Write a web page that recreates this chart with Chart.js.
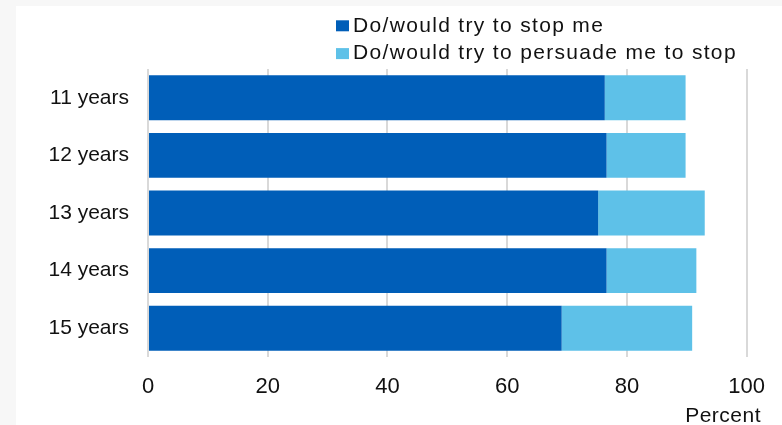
<!DOCTYPE html>
<html>
<head>
<meta charset="utf-8">
<script src="https://cdn.jsdelivr.net/npm/chart.js@4/dist/chart.umd.min.js"></script>
<style>
    html, body { margin: 0; padding: 0; background: #f7f7f7; }
    #wrap { width: 782px; height: 425px; }
</style>
</head>
<body>
<div id="wrap"><canvas id="ageChart" width="782" height="425"></canvas></div>
<script>
const categories = ['11 years', '12 years', '13 years', '14 years', '15 years'];
const stopMe = [76.3, 76.6, 75.2, 76.6, 69.1];
const persuadeMe = [13.5, 13.2, 17.8, 15.0, 21.8];
const seriesNames = ['Do/would try to stop me', 'Do/would try to persuade me to stop'];
const seriesColors = ['#005eb8', '#5ec1e8'];
const axisTitle = 'Percent';

const FONT = '"Liberation Sans", Arial, sans-serif';

// background panel, two-row legend and axis note
const decor = {
    id: 'decor',
    beforeDraw(chart) {
        const ctx = chart.ctx;
        ctx.save();
        ctx.fillStyle = '#f7f7f7';
        ctx.fillRect(0, 0, chart.width, chart.height);
        ctx.fillStyle = '#ffffff';
        ctx.fillRect(16, 6, chart.width - 16, chart.height - 6);
        ctx.restore();
    },
    afterDraw(chart) {
        const ctx = chart.ctx;
        const rows = [25.8, 53.6];
        ctx.save();
        ctx.font = '21px ' + FONT;
        ctx.textBaseline = 'middle';
        ctx.fillStyle = '#111';
        ctx.letterSpacing = '1.33px';
        chart.data.datasets.forEach((ds, i) => {
            ctx.fillStyle = ds.backgroundColor;
            ctx.fillRect(336, rows[i] - 5.5, 13, 11);
            ctx.fillStyle = '#111';
            ctx.fillText(ds.label, 353, rows[i]);
        });
        ctx.letterSpacing = '0.5px';
        ctx.textAlign = 'right';
        ctx.textBaseline = 'alphabetic';
        ctx.fillText(axisTitle, 761, 422);
        ctx.restore();
    }
};

const ctx = document.getElementById('ageChart').getContext('2d');
new Chart(ctx, {
    type: 'bar',
    data: {
        labels: categories,
        datasets: [{
            label: seriesNames[0],
            data: stopMe,
            backgroundColor: seriesColors[0]
        }, {
            label: seriesNames[1],
            data: persuadeMe,
            backgroundColor: seriesColors[1]
        }]
    },
    options: {
        indexAxis: 'y',
        responsive: false,
        animation: false,
        devicePixelRatio: 1,
        datasets: {
            bar: {
                categoryPercentage: 1,
                barPercentage: 0.78,
                borderWidth: 0
            }
        },
        layout: {
            padding: { top: 69, left: 16, right: 35, bottom: 0 }
        },
        plugins: {
            legend: { display: false },
            tooltip: { enabled: false }
        },
        scales: {
            x: {
                stacked: true,
                min: 0,
                max: 100,
                ticks: {
                    stepSize: 20,
                    padding: 17,
                    color: '#111',
                    font: { family: FONT, size: 22 }
                },
                grid: {
                    color: '#d9d9d9',
                    lineWidth: 2,
                    drawTicks: false
                },
                border: { display: false },
                afterFit: scale => { scale.height = 68; }
            },
            y: {
                stacked: true,
                ticks: {
                    padding: 19,
                    color: '#111',
                    font: { family: FONT, size: 21 }
                },
                grid: { display: false, drawTicks: false },
                border: { display: false },
                afterFit: scale => { scale.width = 132; }
            }
        }
    },
    plugins: [decor]
});
</script>
</body>
</html>
